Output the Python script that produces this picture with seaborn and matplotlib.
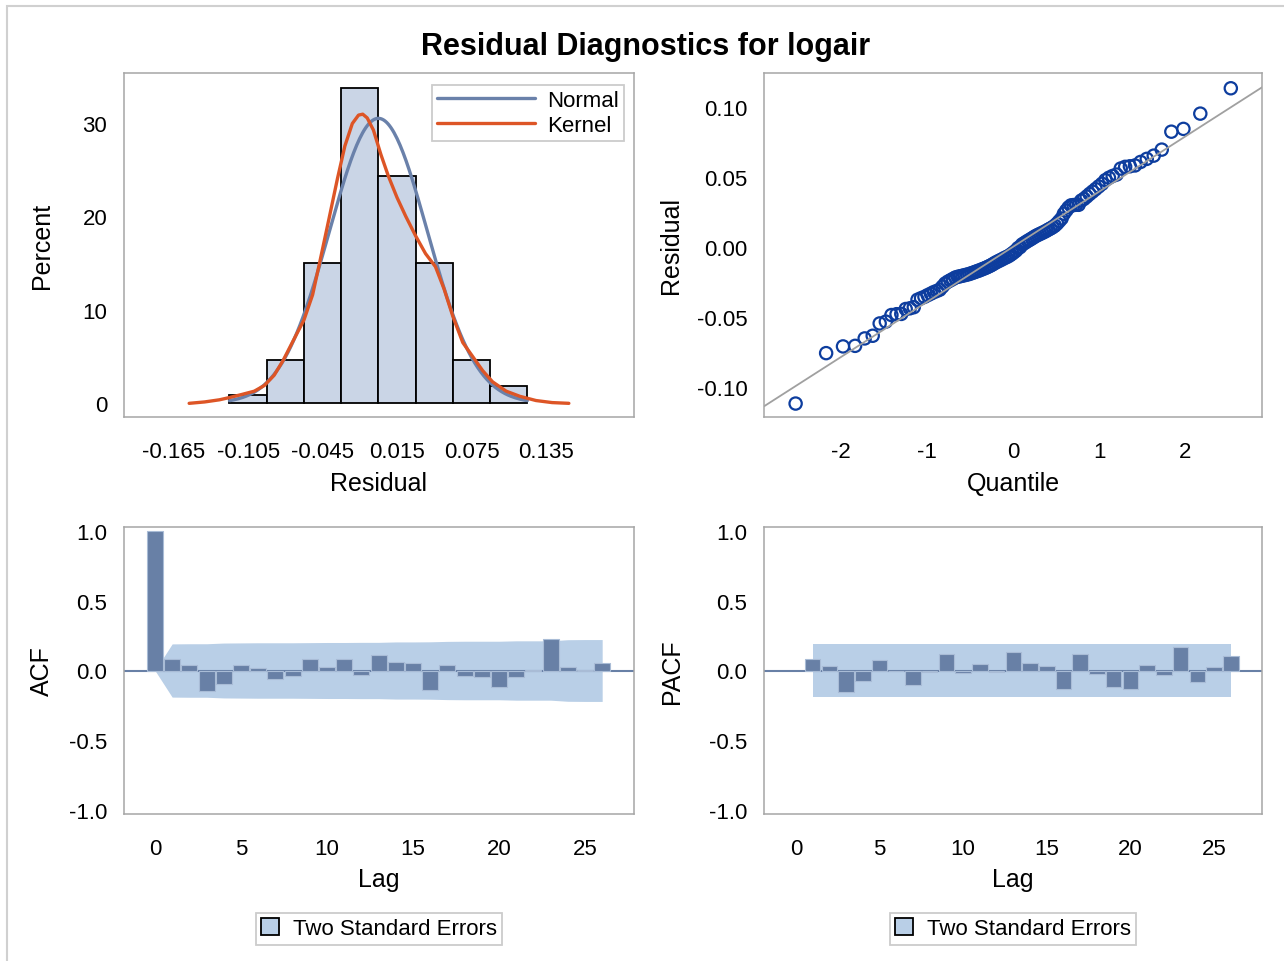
from statistics import NormalDist

import matplotlib
matplotlib.use("Agg")
import matplotlib.pyplot as plt
from matplotlib.lines import Line2D
from matplotlib.patches import Patch, Rectangle
from matplotlib.ticker import FormatStrFormatter
import numpy as np
import seaborn as sns

# histogram of residuals (percent per bin)
bin_edges = [-0.12, -0.09, -0.06, -0.03, 0.0, 0.03, 0.06, 0.09, 0.12]
bin_centers = [-0.105, -0.075, -0.045, -0.015, 0.015, 0.045, 0.075, 0.105]
bin_pct = [0.9, 4.65, 15.0, 33.65, 24.3, 15.0, 4.65, 1.85]

# fitted normal
norm_mu = 0.0
norm_sigma = 0.0393

# kernel density curve (percent scale)
kern_x = [-0.1525, -0.140, -0.128, -0.120, -0.110, -0.100, -0.092, -0.084,
          -0.0767, -0.069, -0.060, -0.053, -0.0474, -0.040, -0.033, -0.027,
          -0.021, -0.016, -0.0126, -0.009, -0.004, 0.002, 0.008, 0.015,
          0.022, 0.030, 0.038, 0.046, 0.053, 0.060, 0.068, 0.076, 0.084,
          0.092, 0.103, 0.114, 0.127, 0.140, 0.1535]
kern_y = [0.0, 0.15, 0.38, 0.62, 0.95, 1.3, 1.9, 3.0,
          4.6, 6.6, 8.9, 11.6, 15.0, 19.6, 24.0, 27.5,
          29.9, 30.8, 30.9, 30.5, 29.2, 26.6, 24.3, 22.0,
          20.0, 17.9, 16.0, 14.6, 12.2, 9.3, 6.5, 5.0, 3.5,
          2.3, 1.3, 0.75, 0.3, 0.08, 0.0]

# sorted residuals for the Q-Q plot
residuals = [
    -0.1120, -0.0760, -0.0712, -0.0708, -0.0655, -0.0636, -0.0548, -0.0535,
    -0.0488, -0.0482, -0.0480, -0.0445, -0.0440, -0.0432, -0.0379, -0.0368,
    -0.0358, -0.0346, -0.0335, -0.0324, -0.0316, -0.0307, -0.0285, -0.0263,
    -0.0250, -0.0240, -0.0230, -0.0220, -0.0215, -0.0211, -0.0207, -0.0203,
    -0.0199, -0.0195, -0.0189, -0.0184, -0.0178, -0.0173, -0.0167, -0.0161,
    -0.0155, -0.0149, -0.0142, -0.0135, -0.0127, -0.0118, -0.0110, -0.0103,
    -0.0096, -0.0089, -0.0081, -0.0075, -0.0068, -0.0059, -0.0049, -0.0038,
    -0.0027, -0.0010, -0.0003, 0.0015, 0.0024, 0.0033, 0.0042, 0.0050,
    0.0059, 0.0068, 0.0077, 0.0084, 0.0091, 0.0098, 0.0105, 0.0113,
    0.0122, 0.0130, 0.0139, 0.0150, 0.0165, 0.0183, 0.0201, 0.0235,
    0.0258, 0.0280, 0.0295, 0.0297, 0.0299, 0.0299, 0.0329, 0.0341,
    0.0358, 0.0376, 0.0393, 0.0411, 0.0430, 0.0449, 0.0475, 0.0492,
    0.0505, 0.0515, 0.0558, 0.0570, 0.0574, 0.0580, 0.0605, 0.0627,
    0.0650, 0.0693, 0.0821, 0.0841, 0.0950, 0.1131,
]

# autocorrelations
lags = list(range(27))
acf = [1.0, 0.086, 0.043, -0.148, -0.096, 0.043, 0.017, -0.060, -0.036,
       0.081, 0.022, 0.086, -0.031, 0.110, 0.062, 0.057, -0.143, 0.036,
       -0.041, -0.050, -0.115, -0.050, 0.004, 0.225, 0.024, 0.003, 0.057]
acf_2se = [0.0, 0.191, 0.192, 0.192, 0.197, 0.198, 0.199, 0.199, 0.199,
           0.200, 0.201, 0.201, 0.202, 0.202, 0.205, 0.205, 0.206, 0.209,
           0.210, 0.210, 0.210, 0.213, 0.213, 0.213, 0.221, 0.222, 0.222]

pacf_lags = list(range(1, 27))
pacf = [0.086, 0.033, -0.153, -0.076, 0.076, -0.003, -0.103, -0.010,
        0.115, -0.019, 0.045, -0.014, 0.136, 0.055, 0.031, -0.134, 0.119,
        -0.022, -0.115, -0.134, 0.041, -0.033, 0.167, -0.081, 0.026, 0.103]
pacf_2se = 0.193

HIST_FILL = "#cad5e6"
NORMAL_C = "#6a81aa"
KERNEL_C = "#dd5526"
MARKER_C = "#0d3d9e"
BAR_C = "#6880a6"
BAND_C = "#b9cfe7"
FRAME_C = "#a6a6a6"

sns.set_theme(style="white")
plt.rcParams["font.family"] = ["Liberation Sans", "DejaVu Sans"]
plt.rcParams["axes.unicode_minus"] = False
plt.rcParams["text.color"] = "black"
plt.rcParams["axes.labelcolor"] = "black"

W, H = 1284, 962
fig = plt.figure(figsize=(W / 100, H / 100), dpi=100)


def px_axes(left, top, right, bottom):
    return fig.add_axes([left / W, 1 - bottom / H, (right - left) / W,
                         (bottom - top) / H])


def style(ax):
    for s in ax.spines.values():
        s.set_color(FRAME_C)
        s.set_linewidth(1.1)
    ax.tick_params(length=7, width=1.1, color=FRAME_C, labelsize=16,
                   labelcolor="black", pad=5)
    ax.tick_params(axis="x", pad=10)


ax_h = px_axes(124, 74, 634, 418)
ax_q = px_axes(764, 74, 1262, 418)
ax_a = px_axes(124, 528, 634, 815)
ax_p = px_axes(764, 528, 1262, 815)

# histogram panel
sns.histplot(x=bin_centers, weights=bin_pct, bins=bin_edges, ax=ax_h,
             color=HIST_FILL, alpha=1, edgecolor="black", linewidth=1.3)
xs = np.linspace(bin_edges[0], bin_edges[-1], 200)
norm_pct = 100 * 0.03 * np.exp(-0.5 * ((xs - norm_mu) / norm_sigma) ** 2) \
    / (norm_sigma * np.sqrt(2 * np.pi))
sns.lineplot(x=xs, y=norm_pct, ax=ax_h, color=NORMAL_C, lw=2.4)
sns.lineplot(x=kern_x, y=kern_y, ax=ax_h, color=KERNEL_C, lw=2.4, sort=False)
ax_h.set_xlim(-0.205, 0.206)
ax_h.set_ylim(-1.46, 35.3)
ax_h.set_xticks([-0.165, -0.105, -0.045, 0.015, 0.075, 0.135])
ax_h.xaxis.set_major_formatter(FormatStrFormatter("%.3f"))
ax_h.set_yticks([0, 10, 20, 30])
ax_h.set_xlabel("Residual", fontsize=18)
ax_h.set_ylabel("Percent", fontsize=18)
ax_h.xaxis.set_label_coords(0.5, -0.157)
ax_h.yaxis.set_label_coords(-0.137, 0.5)
handles = [Line2D([], [], color=NORMAL_C, lw=2.4),
           Line2D([], [], color=KERNEL_C, lw=2.4)]
leg = ax_h.legend(handles, ["Normal", "Kernel"], loc="upper right",
                  bbox_to_anchor=(0.980, 0.966), borderaxespad=0,
                  fontsize=16, handlelength=4.4, handletextpad=0.55,
                  labelspacing=0.2, borderpad=0.22, fancybox=False,
                  framealpha=1, edgecolor="#cccccc")
leg.get_frame().set_linewidth(1.3)
style(ax_h)

# Q-Q panel
n = len(residuals)
quant = [NormalDist().inv_cdf((i + 1 - 0.375) / (n + 0.25)) for i in range(n)]
qx = np.array([-2.9, 2.9])
sns.lineplot(x=qx, y=norm_mu + norm_sigma * qx, ax=ax_q, color="#a0a0a0",
             lw=1.3)
sns.scatterplot(x=quant, y=residuals, ax=ax_q, marker="o", s=78,
                facecolors="none", edgecolor=MARKER_C, linewidth=1.6)
ax_q.set_xlim(-2.90, 2.895)
ax_q.set_ylim(-0.1216, 0.124)
ax_q.set_xticks([-2, -1, 0, 1, 2])
ax_q.set_yticks([-0.10, -0.05, 0.0, 0.05, 0.10])
ax_q.yaxis.set_major_formatter(FormatStrFormatter("%.2f"))
ax_q.set_xlabel("Quantile", fontsize=18)
ax_q.set_ylabel("Residual", fontsize=18)
ax_q.xaxis.set_label_coords(0.5, -0.157)
ax_q.yaxis.set_label_coords(-0.163, 0.5)
style(ax_q)


def corr_panel(ax, x, y, band_x, band_lo, band_hi, label, xlim):
    ax.fill_between(band_x, band_lo, band_hi, color=BAND_C, lw=0, zorder=1)
    ax.axhline(0, color=BAR_C, lw=1.5, zorder=2)
    sns.barplot(x=x, y=y, ax=ax, native_scale=True, orient="x", width=0.93,
                color=BAR_C, saturation=1, edgecolor="#a9bcd6",
                linewidth=0.8, zorder=3)
    ax.set_xlim(*xlim)
    ax.set_ylim(-1.03, 1.03)
    ax.set_xticks([0, 5, 10, 15, 20, 25])
    ax.set_xticklabels(["0", "5", "10", "15", "20", "25"])
    ax.set_yticks([-1.0, -0.5, 0.0, 0.5, 1.0])
    ax.yaxis.set_major_formatter(FormatStrFormatter("%.1f"))
    ax.set_xlabel("Lag", fontsize=18)
    ax.set_ylabel(label, fontsize=18)
    ax.xaxis.set_label_coords(0.5, -0.185)
    lg = ax.legend([Patch(facecolor=BAND_C, edgecolor="black", lw=1.3)],
                   ["Two Standard Errors"], loc="center",
                   bbox_to_anchor=(0.5, -0.40), fontsize=16,
                   handlelength=0.8, handleheight=0.8, handletextpad=0.6,
                   borderpad=0.25, fancybox=False, framealpha=1,
                   edgecolor="#cccccc")
    lg.get_frame().set_linewidth(1.3)
    style(ax)


acf_band = np.array(acf_2se)
corr_panel(ax_a, lags, acf, lags, -acf_band, acf_band, "ACF", (-1.8, 27.85))
ax_a.yaxis.set_label_coords(-0.137, 0.5)
corr_panel(ax_p, pacf_lags, pacf, pacf_lags, -pacf_2se, pacf_2se, "PACF",
           (-1.91, 27.87))
ax_p.yaxis.set_label_coords(-0.161, 0.5)

fig.text(646 / W, 1 - 47 / H, "Residual Diagnostics for logair",
         ha="center", va="center", fontsize=22, fontweight="bold")
fig.patches.append(Rectangle((7 / W, -0.01), 1.02, 1 - 7 / H + 0.01,
                             transform=fig.transFigure, fill=False,
                             edgecolor="#d0d0d0", lw=1.5))

fig.savefig("out.png", dpi=100)
